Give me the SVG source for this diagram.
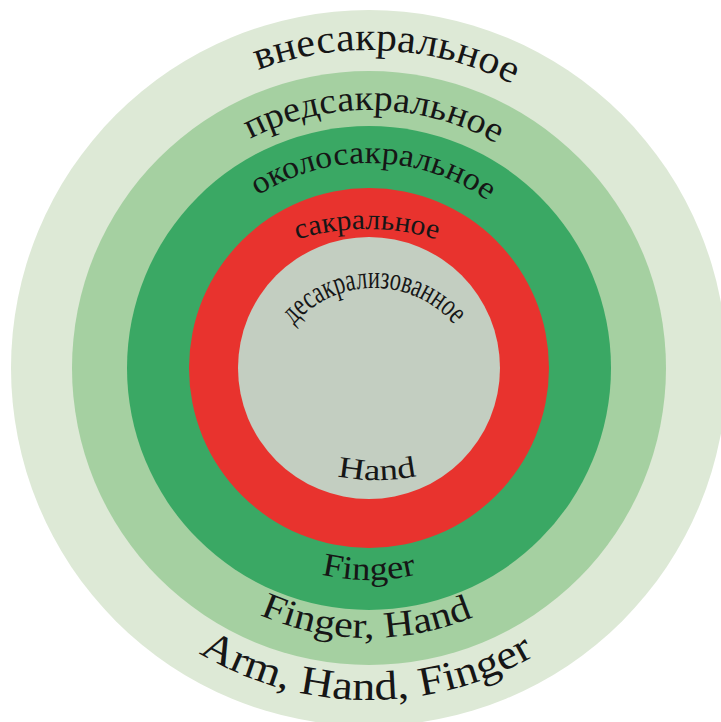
<svg xmlns="http://www.w3.org/2000/svg" xmlns:xlink="http://www.w3.org/1999/xlink" width="721" height="722" viewBox="0 0 721 722">
  <style>
    .lbl { font-family: "Liberation Serif", "Times New Roman", serif; fill: #161616; text-anchor: middle; }
  </style>
  <defs>
    <path id="p1" d="M 51,368 A 318 318 0 0 1 687,368"/>
    <path id="p2" d="M 111,368 A 258 258 0 0 1 627,368"/>
    <path id="p3" d="M 164,368 A 205 205 0 0 1 574,368"/>
    <path id="p4" d="M 130,466 A 237 237 0 0 1 604,466"/>
    <path id="p5" d="M 268,394 A 106 106 0 0 1 480,394"/>
    <path id="b1" d="M 177,280 A 200 200 0 0 0 577,280"/>
    <path id="b2" d="M 157,368 A 212 212 0 0 0 581,368"/>
    <path id="b3" d="M 99,368 A 270 270 0 0 0 639,368"/>
    <path id="b4" d="M 37,368 A 332 332 0 0 0 701,368"/>
  </defs>
  <rect width="721" height="722" fill="#ffffff"/>

  <g id="ring-outer">
    <circle cx="369" cy="368" r="358" fill="#dde9d6"/>
  </g>
  <g id="ring-pre">
    <circle cx="369" cy="368" r="297" fill="#a5d0a1"/>
  </g>
  <g id="ring-near">
    <circle cx="369" cy="368" r="242" fill="#3aa864"/>
  </g>
  <g id="ring-sacral">
    <circle cx="369" cy="368" r="180" fill="#e8332e"/>
  </g>
  <g id="ring-desacral">
    <circle cx="369" cy="368" r="131" fill="#c3cec1"/>
  </g>

  <g id="connectors"/>

  <g id="label-outer">
    <text class="lbl" font-size="40" transform="rotate(3.2 369 368)"><textPath xlink:href="#p1" href="#p1" startOffset="50%" textLength="262" lengthAdjust="spacingAndGlyphs">внесакральное</textPath></text>
    <text class="lbl" font-size="41" transform="rotate(0.5 369 368)"><textPath xlink:href="#b4" href="#b4" startOffset="50%" textLength="352" lengthAdjust="spacingAndGlyphs">Arm, Hand, Finger</textPath></text>
  </g>
  <g id="label-pre">
    <text class="lbl" font-size="37" transform="rotate(0.6 369 368)"><textPath xlink:href="#b3" href="#b3" startOffset="50%" textLength="220" lengthAdjust="spacingAndGlyphs">Finger, Hand</textPath></text>
    <text class="lbl" font-size="36" transform="rotate(1.1 369 368)"><textPath xlink:href="#p2" href="#p2" startOffset="50%" textLength="257" lengthAdjust="spacingAndGlyphs">предсакральное</textPath></text>
  </g>
  <g id="label-near">
    <text class="lbl" font-size="32" transform="rotate(1.3 369 368)"><textPath xlink:href="#p3" href="#p3" startOffset="50%" textLength="244" lengthAdjust="spacingAndGlyphs">околосакральное</textPath></text>
    <text class="lbl" font-size="33"><textPath xlink:href="#b2" href="#b2" startOffset="50%" textLength="96" lengthAdjust="spacingAndGlyphs">Finger</textPath></text>
  </g>
  <g id="label-sacral">
    <text class="lbl" font-size="29"><textPath xlink:href="#p4" href="#p4" startOffset="50%" textLength="142" lengthAdjust="spacingAndGlyphs">сакральное</textPath></text>
  </g>
  <g id="label-desacral">
    <text class="lbl" font-size="32"><textPath xlink:href="#p5" href="#p5" startOffset="50%" textLength="182" lengthAdjust="spacingAndGlyphs">десакрализованное</textPath></text>
    <text class="lbl" font-size="30"><textPath xlink:href="#b1" href="#b1" startOffset="50%" textLength="80" lengthAdjust="spacingAndGlyphs">Hand</textPath></text>
  </g>
</svg>
